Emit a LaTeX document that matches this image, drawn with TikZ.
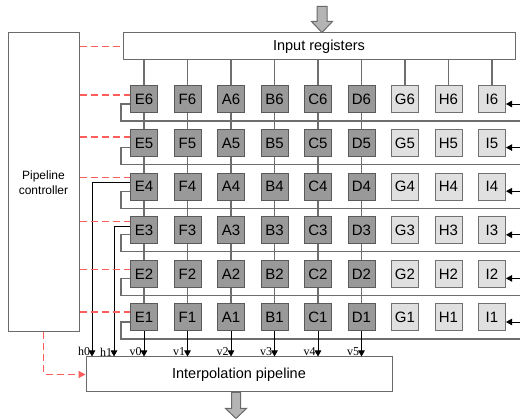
\documentclass[tikz,border=0pt]{standalone}
\usepackage{fontspec}
\setmainfont{Liberation Sans}
\newfontfamily\labfont{Liberation Serif}
\usetikzlibrary{arrows.meta}
\definecolor{darkcell}{HTML}{999999}
\definecolor{darkline}{HTML}{5A5A5A}
\definecolor{lightcell}{HTML}{E0E0E0}
\definecolor{lightline}{HTML}{707070}
\definecolor{blockline}{HTML}{6A6A6A}
\definecolor{busline}{HTML}{6E6E6E}
\definecolor{ctrlred}{HTML}{FF5C5C}
\definecolor{bigfill}{HTML}{B4B4B4}

\begin{document}
\begin{tikzpicture}[x=1pt,y=-1pt,
    cell/.style={draw=darkline,line width=1pt,minimum size=27pt,inner sep=0pt,
                 font=\fontsize{15}{15}\selectfont},
    dark/.style={cell,fill=darkcell},
    light/.style={cell,fill=lightcell,draw=lightline},
    block/.style={draw=blockline,line width=1pt,inner sep=0pt,fill=white},
    bus/.style={draw=busline,line width=1.2pt},
    ctrl/.style={draw=ctrlred,line width=1.2pt,dash pattern=on 7pt off 4pt},
    tip/.style={-{Triangle[length=6pt,width=6.5pt]},black,line width=0.8pt},
    lab/.style={font=\labfont\fontsize{12}{12}\selectfont,inner sep=0pt,anchor=south east},
    big/.style={fill=bigfill,draw=blockline,line width=1pt}]

    \useasboundingbox (0,0) rectangle (520,419);
    \coordinate (edge) at (520,0);
    \coordinate (h0x) at (92,0);
    \coordinate (h1x) at (114,0);

    \node[block,minimum width=392pt,minimum height=27pt,font=\fontsize{14.5}{17}\selectfont]
        (in) at (319,46.5) {Input registers};
    \node[block,minimum width=71pt,minimum height=299pt,align=center,
          font=\fontsize{12}{14.5}\selectfont]
        (ctrl) at (43.5,182.5) {Pipeline\\controller};
    \node[block,minimum width=306pt,minimum height=35pt,font=\fontsize{14.5}{17}\selectfont]
        (pipe) at (239,374.5) {Interpolation pipeline};

    % register cells
    \foreach \c [count=\i from 0] in {E,F,A,B,C,D}
        \foreach \r in {1,...,6}
            \node[dark] (\c\r) at ({144+43.5*\i},{99.5+43.6*(6-\r)}) {\c\r};
    \foreach \c [count=\i from 6] in {G,H,I}
        \foreach \r in {1,...,6}
            \node[light] (\c\r) at ({144+43.5*\i},{99.5+43.6*(6-\r)}) {\c\r};

    % loading from input registers, shifting down the columns
    \foreach \c in {E,F,A,B,C,D,G,H,I}
        \draw[bus] (\c6.north |- in.south) -- (\c6.north);
    \foreach \c in {E,F,A,B,C,D}
        \foreach \r in {2,...,6}{
            \pgfmathtruncatemacro{\rb}{\r-1}
            \draw[bus] (\c\r.south) -- (\c\rb.north);
        }

    % row shift paths
    \foreach \r in {1,...,6}{
        \draw[bus] ([yshift=-4.5pt]E\r.west) -- ++(-9,0) |- ([yshift=-21.5pt]E\r.center -| edge);
        \draw[tip] ([yshift=-4.5pt]I\r.east -| edge) -- ([yshift=-4.5pt]I\r.east);
    }

    % outputs to the pipeline
    \foreach \c [count=\i from 0] in {E,F,A,B,C,D}
        \draw[tip] (\c1.south) -- (\c1.south |- pipe.north) node[lab,xshift=-2pt] {v\i};
    \draw[tip] ([yshift=4.5pt]E4.west) -| (pipe.north -| h0x) node[lab,xshift=-1.5pt] {h0};
    \draw[tip] ([yshift=3.5pt]E3.west) -| (pipe.north -| h1x) node[lab,xshift=-1.5pt] {h1};

    % control lines
    \draw[ctrl] (in.west -| ctrl.east) -- (in.west);
    \foreach \r/\d in {6/4.5,5/6,4/9.5,3/9,2/4,1/5.5}{
        \coordinate (r\r) at ([yshift=\d pt]E\r.west);
        \draw[ctrl] (r\r -| ctrl.east) -- (r\r);
    }
    \draw[ctrl,-{Triangle[length=7pt,width=7pt]}] (ctrl.south) |- (pipe.west);

    % data in and out
    \draw[big] ([xshift=3pt]in.north) -- ++(-10.5,-11) -- ++(5.5,0) -- ++(0,-15)
        -- ++(10,0) -- ++(0,15) -- ++(5.5,0) -- cycle;
    \draw[big] ([xshift=-7.5pt]pipe.south) -- ++(0,16) -- ++(-6,0) -- ++(10.5,10)
        -- ++(10.5,-10) -- ++(-6,0) -- ++(0,-16) -- cycle;
\end{tikzpicture}
\end{document}
